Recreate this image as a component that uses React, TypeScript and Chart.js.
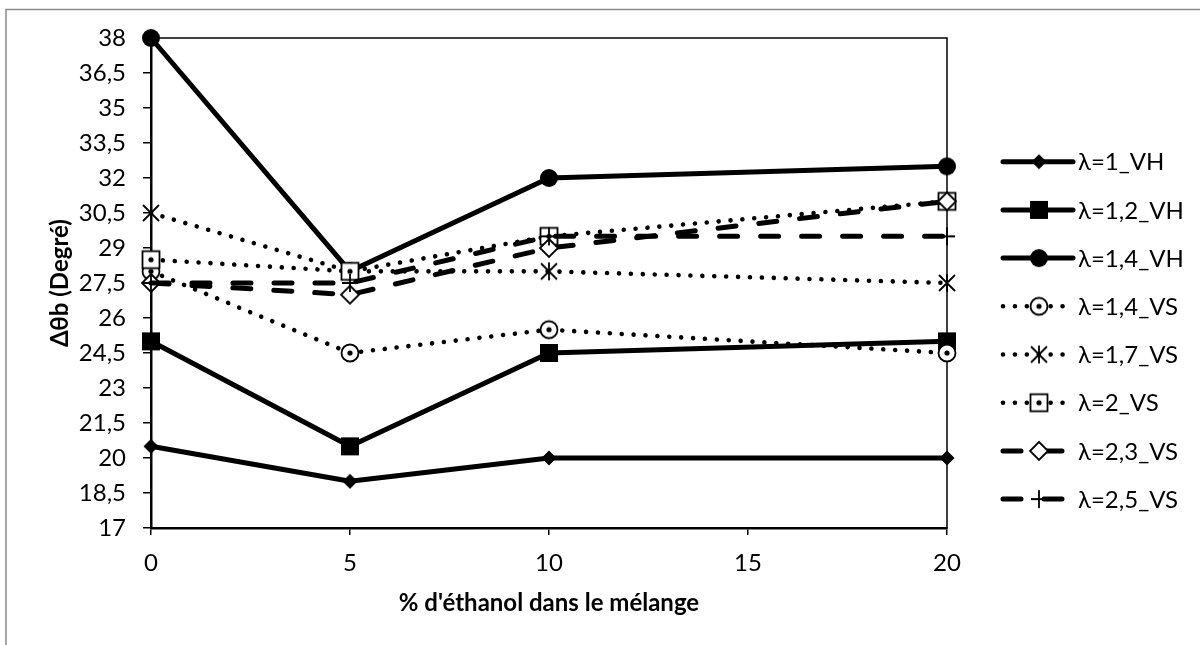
import React, { useEffect, useRef } from 'react';
import { Chart, registerables } from 'chart.js';

Chart.register(...registerables);

// ---- data ----
const xValues = [0, 5, 10, 20];
const seriesNames = ['λ=1_VH', 'λ=1,2_VH', 'λ=1,4_VH', 'λ=1,4_VS', 'λ=1,7_VS', 'λ=2_VS', 'λ=2,3_VS', 'λ=2,5_VS'];
const s1VH = [20.5, 19, 20, 20];
const s12VH = [25, 20.5, 24.5, 25];
const s14VH = [38, 28, 32, 32.5];
const s14VS = [28, 24.5, 25.5, 24.5];
const s17VS = [30.5, 28, 28, 27.5];
const s2VS = [28.5, 28, 29.5, 31];
const s23VS = [27.5, 27, 29, 31];
const s25VS = [27.5, 27.5, 29.5, 29.5];
const xTicks = [0, 5, 10, 15, 20];
const yTicks = [17, 18.5, 20, 21.5, 23, 24.5, 26, 27.5, 29, 30.5, 32, 33.5, 35, 36.5, 38];
const xTitle = "% d'éthanol dans le mélange";
const yTitle = 'Δθb (Degré)';

const FONT = 'Lato, "DejaVu Sans", sans-serif';

function makeMarker(kind: string): HTMLCanvasElement {
  const S = 28;
  const c = document.createElement('canvas');
  c.width = S;
  c.height = S;
  const g = c.getContext('2d')!;
  const m = S / 2;
  g.fillStyle = '#000';
  g.strokeStyle = '#000';
  g.lineWidth = 1.8;
  const diamond = (h: number) => {
    g.beginPath();
    g.moveTo(m, m - h);
    g.lineTo(m + h, m);
    g.lineTo(m, m + h);
    g.lineTo(m - h, m);
    g.closePath();
  };
  switch (kind) {
    case 'diamondFilled':
      diamond(7.5);
      g.fill();
      break;
    case 'squareFilled':
      g.fillRect(m - 9, m - 9, 18, 18);
      break;
    case 'circleFilled':
      g.beginPath();
      g.arc(m, m, 9, 0, Math.PI * 2);
      g.fill();
      break;
    case 'circleDot':
      g.beginPath();
      g.arc(m, m, 8.5, 0, Math.PI * 2);
      g.fillStyle = '#fff';
      g.fill();
      g.stroke();
      g.fillStyle = '#000';
      g.beginPath();
      g.arc(m, m, 2.6, 0, Math.PI * 2);
      g.fill();
      break;
    case 'star':
      g.beginPath();
      g.moveTo(m - 8, m - 8);
      g.lineTo(m + 8, m + 8);
      g.moveTo(m + 8, m - 8);
      g.lineTo(m - 8, m + 8);
      g.moveTo(m, m - 9);
      g.lineTo(m, m + 9);
      g.stroke();
      break;
    case 'squareDot':
      g.fillStyle = '#fff';
      g.fillRect(m - 8.5, m - 8.5, 17, 17);
      g.strokeRect(m - 8.5, m - 8.5, 17, 17);
      g.fillStyle = '#000';
      g.beginPath();
      g.arc(m, m, 2.6, 0, Math.PI * 2);
      g.fill();
      break;
    case 'diamondOpen':
      diamond(9);
      g.fillStyle = '#fff';
      g.fill();
      g.stroke();
      break;
    case 'plus':
      g.beginPath();
      g.moveTo(m - 8, m);
      g.lineTo(m + 8, m);
      g.moveTo(m, m - 9);
      g.lineTo(m, m + 9);
      g.stroke();
      break;
  }
  return c;
}

const DOT = [0.01, 11.9];
const DASH = [18, 23];

export default function App() {
  const ref = useRef<HTMLCanvasElement | null>(null);

  useEffect(() => {
    const canvas = ref.current;
    if (!canvas) return;
    const specs = [
      { data: s1VH, marker: 'diamondFilled', dash: [] as number[], width: 5 },
      { data: s12VH, marker: 'squareFilled', dash: [] as number[], width: 5 },
      { data: s14VH, marker: 'circleFilled', dash: [] as number[], width: 5 },
      { data: s14VS, marker: 'circleDot', dash: DOT, width: 4.6 },
      { data: s17VS, marker: 'star', dash: DOT, width: 4.6 },
      { data: s2VS, marker: 'squareDot', dash: DOT, width: 4.6 },
      { data: s23VS, marker: 'diamondOpen', dash: DASH, width: 5 },
      { data: s25VS, marker: 'plus', dash: DASH, width: 5 },
    ];
    const markers = specs.map((s) => makeMarker(s.marker));

    const decor = {
      id: 'decor',
      beforeDatasetsDraw(chart: any) {
        const { ctx, chartArea } = chart;
        ctx.save();
        ctx.strokeStyle = '#000';
        ctx.lineWidth = 1.5;
        ctx.strokeRect(chartArea.left, chartArea.top, chartArea.right - chartArea.left, chartArea.bottom - chartArea.top);
        ctx.restore();
      },
      afterDraw(chart: any) {
        const { ctx, chartArea } = chart;
        ctx.save();
        // outer border
        ctx.strokeStyle = '#8a8a8a';
        ctx.lineWidth = 1.5;
        ctx.strokeRect(6, 9.5, 1250, 700);
        // titles
        ctx.fillStyle = '#000';
        ctx.font = `bold 24px ${FONT}`;
        ctx.textAlign = 'center';
        ctx.textBaseline = 'middle';
        ctx.fillText(xTitle, (chartArea.left + chartArea.right) / 2, 603);
        ctx.save();
        ctx.translate(60, (chartArea.top + chartArea.bottom) / 2);
        ctx.rotate(-Math.PI / 2);
        ctx.fillText(yTitle, 0, 0);
        ctx.restore();
        // legend
        const y0 = 161.7;
        const step = 48.2;
        specs.forEach((s, i) => {
          const y = y0 + i * step;
          const x1 = 1003;
          const x2 = s.dash.length ? 1066 : 1073;
          ctx.save();
          ctx.strokeStyle = '#000';
          ctx.lineWidth = s.width;
          ctx.lineCap = 'round';
          ctx.setLineDash(s.dash);
          ctx.beginPath();
          ctx.moveTo(x1, y);
          ctx.lineTo(x2, y);
          ctx.stroke();
          ctx.restore();
          const mk = markers[i];
          ctx.drawImage(mk, 1039 - mk.width / 2, y - mk.height / 2);
          ctx.fillStyle = '#000';
          ctx.font = `24px ${FONT}`;
          ctx.textAlign = 'left';
          ctx.textBaseline = 'middle';
          ctx.fillText(seriesNames[i], 1078, y + 1);
        });
        ctx.restore();
      },
    };

    const fmt = (v: number) => String(Math.round(v * 10) / 10).replace('.', ',');

    const chart = new Chart(canvas, {
      type: 'line',
      data: {
        datasets: specs.map((s, i) => ({
          label: seriesNames[i],
          data: xValues.map((x, j) => ({ x, y: s.data[j] })),
          borderColor: '#000',
          backgroundColor: '#000',
          borderWidth: s.width,
          borderDash: s.dash,
          borderCapStyle: 'round',
          borderJoinStyle: 'round',
          pointStyle: markers[i] as any,
          pointRadius: 10,
          pointHoverRadius: 10,
          tension: 0,
          fill: false,
          clip: false as any,
          order: 8 - i,
        })),
      },
      options: {
        responsive: false,
        animation: false,
        devicePixelRatio: 1,
        events: [],
        layout: { padding: { left: 0, right: 253, top: 38, bottom: 0 } },
        plugins: {
          legend: { display: false },
          tooltip: { enabled: false },
          title: { display: false },
        },
        scales: {
          x: {
            type: 'linear',
            min: 0,
            max: 20,
            afterBuildTicks: (s: any) => {
              s.ticks = xTicks.map((v) => ({ value: v }));
            },
            afterFit: (s: any) => {
              s.height = 117;
            },
            grid: { display: true, drawOnChartArea: false, drawTicks: true, tickLength: 7, color: '#000', lineWidth: 1.5 },
            border: { display: true, color: '#000', width: 2.5 },
            ticks: { color: '#000', font: { family: FONT, size: 24 }, padding: 14, maxRotation: 0, autoSkip: false, callback: (v: any) => fmt(Number(v)) },
          },
          y: {
            type: 'linear',
            min: 17,
            max: 38,
            afterBuildTicks: (s: any) => {
              s.ticks = yTicks.map((v) => ({ value: v }));
            },
            afterFit: (s: any) => {
              s.width = 151;
            },
            grid: { display: true, drawOnChartArea: false, drawTicks: true, tickLength: 8, color: '#000', lineWidth: 1.5 },
            border: { display: true, color: '#000', width: 2.5 },
            ticks: { color: '#000', font: { family: FONT, size: 24 }, padding: 17, autoSkip: false, callback: (v: any) => fmt(Number(v)) },
          },
        },
      },
      plugins: [decor],
    });
    return () => chart.destroy();
  }, []);

  return (
    <div style={{ position: 'absolute', left: 0, top: 0, width: 1200, height: 645, background: '#fff' }}>
      <canvas ref={ref} width={1200} height={645} style={{ display: 'block', width: 1200, height: 645 }} />
    </div>
  );
}
